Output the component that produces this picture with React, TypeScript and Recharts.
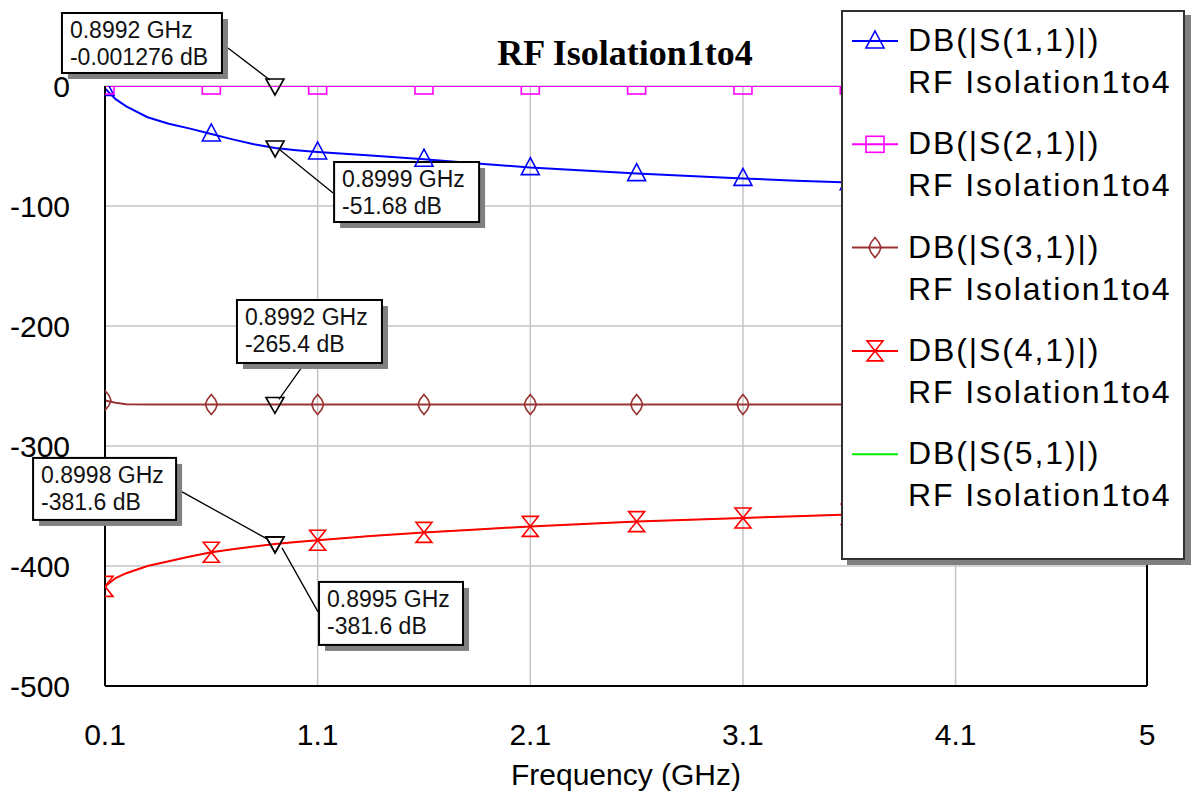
import React from 'react';
import {
  LineChart,
  Line,
  XAxis,
  YAxis,
  CartesianGrid,
  ReferenceDot,
  ReferenceLine,
  ReferenceArea,
  Legend,
  Label,
} from 'recharts';

// Sweep frequencies (GHz)
const freqGHz = [0.1, 0.15, 0.2, 0.3, 0.4, 0.5, 0.6, 0.7, 0.8, 0.9, 1.0, 1.1, 1.35, 1.6, 1.85, 2.1, 2.35, 2.6, 2.85, 3.1, 3.35, 3.6, 4.1, 4.6, 5.0];

// Magnitudes in dB for each S-parameter
const s11Db = [-2, -11, -17, -26, -31.5, -35.5, -40, -44.5, -48.5, -51.7, -53.5, -55, -58, -61, -64.5, -68, -70.5, -73, -75, -77, -79, -80.5, -83.5, -86.5, -89];
const s21Db = [-0.001, -0.001, -0.001, -0.001, -0.001, -0.001, -0.001, -0.001, -0.001, -0.001, -0.001, -0.001, -0.001, -0.001, -0.001, -0.001, -0.001, -0.001, -0.001, -0.001, -0.001, -0.001, -0.001, -0.001, -0.001];
const s31Db = [-262, -264, -265.2, -265.4, -265.4, -265.4, -265.4, -265.4, -265.4, -265.4, -265.4, -265.4, -265.4, -265.4, -265.4, -265.4, -265.4, -265.4, -265.4, -265.4, -265.4, -265.4, -265.4, -265.4, -265.4];
const s41Db = [-417, -410, -406, -400, -396, -392, -388.5, -386, -383.7, -381.6, -380, -378.5, -375, -372, -369.5, -367, -365, -363, -361.5, -360, -358.5, -357, -354.5, -352, -350];
const s51Db = [-417, -410, -406, -400, -396, -392, -388.5, -386, -383.7, -381.6, -380, -378.5, -375, -372, -369.5, -367, -365, -363, -361.5, -360, -358.5, -357, -354.5, -352, -350];

// Frequencies where each trace carries its symbol
const symbolFreqGHz = [0.1, 0.6, 1.1, 1.6, 2.1, 2.6, 3.1, 3.6, 4.1, 4.6];

const xTicks = [0.1, 1.1, 2.1, 3.1, 4.1, 5];
const yTicks = [-500, -400, -300, -200, -100, 0];
const xDomain: [number, number] = [0.1, 5];
const yDomain: [number, number] = [-500, 0];

// Marker readouts
const readoutFreqGHz = [0.8992, 0.8999, 0.8992, 0.8998, 0.8995];
const readoutDb = [-0.001276, -51.68, -265.4, -381.6, -381.6];

const seriesNames = ['DB(|S(1,1)|)', 'DB(|S(2,1)|)', 'DB(|S(3,1)|)', 'DB(|S(4,1)|)', 'DB(|S(5,1)|)'];
const traceSource = 'RF Isolation1to4';
const chartTitle = 'RF Isolation1to4';
const xAxisTitle = 'Frequency (GHz)';

type Glyph = 'triangle' | 'square' | 'diamond' | 'hourglass' | 'none';

const SERIES: { key: string; name: string; color: string; glyph: Glyph; width: number }[] = [
  { key: 's11', name: seriesNames[0], color: '#0000ff', glyph: 'triangle', width: 2 },
  { key: 's21', name: seriesNames[1], color: '#ff00ff', glyph: 'square', width: 2 },
  { key: 's31', name: seriesNames[2], color: '#993333', glyph: 'diamond', width: 2 },
  { key: 's41', name: seriesNames[3], color: '#ff0000', glyph: 'hourglass', width: 2 },
  { key: 's51', name: seriesNames[4], color: '#00ee00', glyph: 'none', width: 1 },
];

// Draw order: S(5,1) sits under S(4,1)
const DRAW_ORDER = ['s11', 's21', 's31', 's51', 's41'];

const data = freqGHz.map((f, i) => ({
  f,
  s11: s11Db[i],
  s21: s21Db[i],
  s31: s31Db[i],
  s41: s41Db[i],
  s51: s51Db[i],
}));

const SANS = '"Liberation Sans", Arial, sans-serif';
const SERIF = '"Liberation Serif", "Times New Roman", serif';
const PLOT_CLIP_ID = 'plot-area-clip';

function SymbolGlyph({ kind, color, cx, cy }: { kind: Glyph; color: string; cx: number; cy: number }) {
  const common = { fill: 'none', stroke: color, strokeWidth: 1.6 };
  switch (kind) {
    case 'triangle':
      return <path d={`M${cx},${cy - 10} L${cx + 9},${cy + 7} L${cx - 9},${cy + 7} Z`} {...common} />;
    case 'square':
      return <rect x={cx - 9} y={cy - 8} width={18} height={16} {...common} />;
    case 'diamond':
      return (
        <path
          d={`M${cx},${cy - 10} L${cx + 4},${cy - 5} L${cx + 6},${cy} L${cx + 4},${cy + 5} L${cx},${cy + 10} L${cx - 4},${cy + 5} L${cx - 6},${cy} L${cx - 4},${cy - 5} Z`}
          {...common}
        />
      );
    case 'hourglass':
      return (
        <g>
          <path d={`M${cx - 8},${cy - 10} H${cx + 8} L${cx - 8},${cy + 10} H${cx + 8} Z`} {...common} />
          <circle cx={cx} cy={cy} r={1.6} fill={color} />
        </g>
      );
    default:
      return null;
  }
}

function SeriesDot(props: any) {
  const { cx, cy, payload, glyph, tint } = props;
  if (cx == null || cy == null || !payload || !symbolFreqGHz.includes(payload.f)) return <g />;
  return (
    <g clipPath={`url(#${PLOT_CLIP_ID})`}>
      <SymbolGlyph kind={glyph} color={tint} cx={cx} cy={cy} />
    </g>
  );
}

// Invisible area over the full domain that publishes the plot rectangle as a clip path
function PlotClipDef(props: any) {
  const { x, y, width, height } = props;
  return (
    <defs>
      <clipPath id={PLOT_CLIP_ID}>
        <rect x={x} y={y} width={width} height={height} />
      </clipPath>
    </defs>
  );
}

// Box placement of each readout relative to its marker
const CALLOUT_LAYOUT = [
  { dx: -213, dy: -73, w: 160, h: 60, lx: -47, ly: -38, ex: -5, ey: -6 },
  { dx: 59, dy: 14, w: 145, h: 60, lx: 58, ly: 45, ex: 5, ey: 2 },
  { dx: -38, dy: -104.5, w: 145, h: 63, lx: 30, ly: -41.5, ex: 4, ey: -5 },
  { dx: -242, dy: -86, w: 143, h: 62, lx: -93, ly: -52, ex: -8, ey: -5 },
  { dx: 44, dy: 38, w: 144, h: 63, lx: 43, ly: 68, ex: 7, ey: 4 },
];

function Callout({ cx, cy, i }: { cx: number; cy: number; i: number }) {
  const L = CALLOUT_LAYOUT[i];
  const bx = cx + L.dx;
  const by = cy + L.dy;
  return (
    <g>
      <line x1={cx + L.lx} y1={cy + L.ly} x2={cx + L.ex} y2={cy + L.ey} stroke="#000" strokeWidth={1.3} />
      <path d={`M${cx - 9},${cy - 7} H${cx + 9} L${cx},${cy + 9} Z`} fill="none" stroke="#000" strokeWidth={1.6} />
      <rect x={bx + 6} y={by + 6} width={L.w} height={L.h} fill="#808080" />
      <rect x={bx} y={by} width={L.w} height={L.h} fill="#fff" stroke="#000" strokeWidth={2} />
      <text x={bx + 8} y={by + 25} fontSize={23} fontFamily={SANS} fill="#111">
        {`${readoutFreqGHz[i]} GHz`}
      </text>
      <text x={bx + 8} y={by + 52} fontSize={23} fontFamily={SANS} fill="#111">
        {`${readoutDb[i]} dB`}
      </text>
    </g>
  );
}

const ENTRY_STEP = 103.3;

function LegendPanel() {
  return (
    <div
      style={{
        width: 344,
        height: 550,
        boxSizing: 'border-box',
        border: '2px solid #303030',
        background: '#fff',
        boxShadow: '6px 5px 0 #808080',
      }}
    >
      <svg width={340} height={546} style={{ display: 'block' }}>
        {SERIES.map((s, i) => {
          const t = i * ENTRY_STEP;
          return (
            <g key={s.key}>
              <line x1={9} x2={55} y1={29 + t} y2={29 + t} stroke={s.color} strokeWidth={2} />
              <SymbolGlyph kind={s.glyph} color={s.color} cx={32} cy={29 + t} />
              <text x={65} y={39 + t} fontSize={32} letterSpacing={1.9} fontFamily={SANS} fill="#000">
                {s.name}
              </text>
              <text x={65} y={81 + t} fontSize={32} letterSpacing={1.9} fontFamily={SANS} fill="#000">
                {traceSource}
              </text>
            </g>
          );
        })}
      </svg>
    </div>
  );
}

export default function App() {
  const byKey = Object.fromEntries(SERIES.map((s) => [s.key, s]));
  return (
    <div style={{ position: 'absolute', left: 0, top: 0, width: 1192, height: 794, background: '#fff', fontFamily: SANS }}>
      <LineChart width={1192} height={794} data={data} margin={{ top: 86, right: 45, bottom: 0, left: 0 }}>
        <CartesianGrid stroke="#c4c4c4" strokeWidth={1.5} />
        <XAxis
          dataKey="f"
          type="number"
          domain={xDomain}
          ticks={xTicks}
          interval={0}
          allowDataOverflow
          height={108}
          tickLine={false}
          tickSize={0}
          tickMargin={38}
          axisLine={{ stroke: '#000', strokeWidth: 2 }}
          tick={{ fontSize: 30, fill: '#000', fontFamily: SANS }}
        >
          <Label value={xAxisTitle} position="insideBottom" offset={9} style={{ fontSize: 30, fill: '#000', fontFamily: SANS }} />
        </XAxis>
        <YAxis
          type="number"
          domain={yDomain}
          ticks={yTicks}
          interval={0}
          allowDataOverflow
          width={105}
          tickLine={false}
          tickSize={0}
          tickMargin={35}
          axisLine={{ stroke: '#000', strokeWidth: 2 }}
          tick={{ fontSize: 30, fill: '#000', fontFamily: SANS }}
        />
        <ReferenceArea
          x1={xDomain[0]}
          x2={xDomain[1]}
          y1={yDomain[0]}
          y2={yDomain[1]}
          ifOverflow="visible"
          shape={(p: any) => <PlotClipDef {...p} />}
        />
        <ReferenceLine x={5} stroke="#000" strokeWidth={2} />
        {DRAW_ORDER.map((k) => {
          const s = byKey[k];
          return (
            <Line
              key={s.key}
              dataKey={s.key}
              name={s.name}
              type="linear"
              stroke={s.color}
              strokeWidth={s.width}
              dot={<SeriesDot glyph={s.glyph} tint={s.color} r={0} strokeWidth={0} />}
              activeDot={false}
              isAnimationActive={false}
            />
          );
        })}
        {readoutFreqGHz.map((f, i) => (
          <ReferenceDot
            key={`readout-${i}`}
            x={f}
            y={readoutDb[i]}
            r={0}
            ifOverflow="visible"
            shape={(p: any) => <Callout cx={p.cx} cy={p.cy} i={i} />}
          />
        ))}
        <Legend
          content={() => <LegendPanel />}
          layout="vertical"
          align="center"
          verticalAlign="middle"
          wrapperStyle={{ left: 841, top: 10, width: 344, height: 550 }}
        />
      </LineChart>
      <svg
        width={1192}
        height={100}
        style={{ position: 'absolute', left: 0, top: 0, pointerEvents: 'none' }}
      >
        <text x={625} y={65} textAnchor="middle" fontSize={36} fontWeight="bold" fontFamily={SERIF} fill="#000">
          {chartTitle}
        </text>
      </svg>
    </div>
  );
}
